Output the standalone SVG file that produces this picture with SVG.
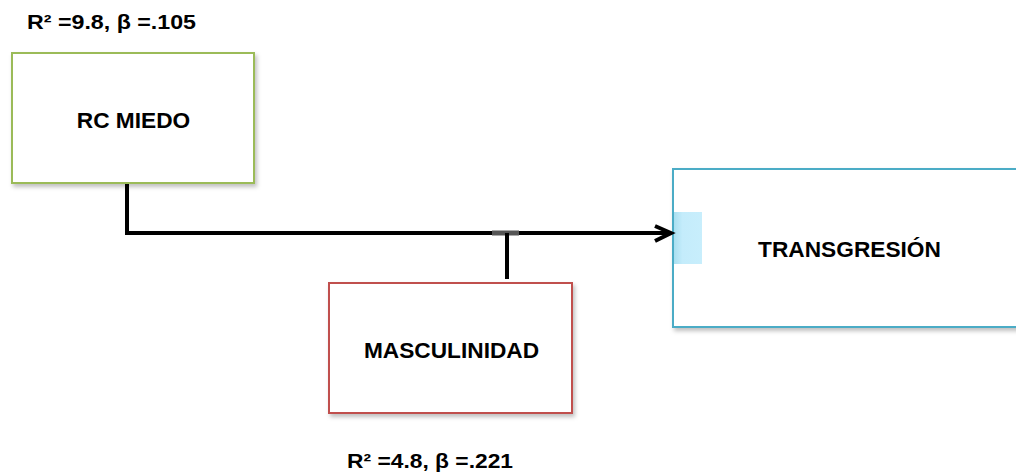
<svg xmlns="http://www.w3.org/2000/svg" width="1016" height="476" viewBox="0 0 1016 476">
<style>
  text { font-family: "Liberation Sans", Arial, sans-serif; font-weight: bold; fill: #000; }
  .lbl { font-size: 21px; }
  .node { font-size: 22.7px; }
  .box { fill: #fff; stroke-width: 2; }
  .conn { fill: none; stroke: #000; stroke-width: 4; }
</style>
<defs>
  <filter id="sh" x="-10%" y="-10%" width="130%" height="130%">
    <feDropShadow dx="2" dy="3" stdDeviation="2" flood-color="#000" flood-opacity="0.25"/>
  </filter>
  <linearGradient id="lb" x1="0" y1="0" x2="1" y2="0">
    <stop offset="0" stop-color="#a9dff0"/>
    <stop offset="0.3" stop-color="#c4ecfb"/>
    <stop offset="1" stop-color="#c8eefc"/>
  </linearGradient>
</defs>
<rect width="1016" height="476" fill="#fff"/>
<text class="lbl" x="27" y="29" textLength="169" lengthAdjust="spacingAndGlyphs">R² =9.8, β =.105</text>
<text class="lbl" x="347" y="468" textLength="166" lengthAdjust="spacingAndGlyphs">R² =4.8, β =.221</text>
<g id="rc-miedo">
  <rect class="box" x="12" y="53" width="242" height="130" stroke="#9bbb59" filter="url(#sh)"/>
  <text class="node" x="133.5" y="128" text-anchor="middle">RC MIEDO</text>
</g>
<g id="masculinidad">
  <rect class="box" x="329" y="283" width="243" height="130" stroke="#c0504d" filter="url(#sh)"/>
  <text class="node" x="451.5" y="358" text-anchor="middle">MASCULINIDAD</text>
</g>
<g id="transgresion">
  <rect class="box" x="673" y="169" width="350" height="158" stroke="#4bacc6" filter="url(#sh)"/>
  <rect x="674" y="212" width="28" height="52" fill="url(#lb)"/>
  <text class="node" x="849.5" y="257" text-anchor="middle">TRANSGRESIÓN</text>
</g>
<g id="connectors">
  <path class="conn" d="M127 184 V233 H670"/>
  <path class="conn" d="M655 226 L671 233 L655 241" stroke-linejoin="miter"/>
  <line x1="492" y1="233" x2="519" y2="233" stroke="#555" stroke-width="5"/>
  <line x1="507" y1="233" x2="507" y2="279" stroke="#000" stroke-width="4"/>
</g>
</svg>
